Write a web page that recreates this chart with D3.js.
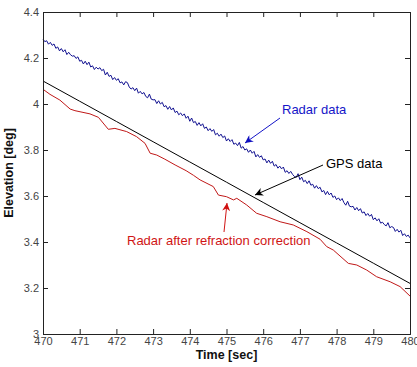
<!DOCTYPE html>
<html><head><meta charset="utf-8">
<script src="https://cdn.jsdelivr.net/npm/d3@7"></script>
<style>body{margin:0;background:#fff}svg{display:block}</style>
</head><body>
<svg id="c" width="417" height="367"></svg>
<script>
const xTicks = [470,471,472,473,474,475,476,477,478,479,480];
const yTicks = [3,3.2,3.4,3.6,3.8,4,4.2,4.4];
const yTickLabels = ["3","3.2","3.4","3.6","3.8","4","4.2","4.4"];
const radarStart = 470, radarStep = 0.05;
const radarValues = [4.282,4.271,4.275,4.260,4.268,4.255,4.261,4.242,4.248,4.231,
4.241,4.227,4.236,4.215,4.225,4.214,4.208,4.210,4.198,4.205,
4.186,4.190,4.174,4.186,4.171,4.182,4.161,4.166,4.150,4.160,
4.152,4.158,4.145,4.151,4.126,4.138,4.120,4.125,4.106,4.115,
4.103,4.110,4.092,4.096,4.083,4.097,4.093,4.074,4.065,4.071,
4.058,4.069,4.047,4.055,4.044,4.050,4.033,4.027,4.043,4.021,
4.018,4.019,4.002,4.014,4.000,4.007,3.988,3.993,3.977,3.989,
3.974,3.983,3.963,3.969,3.953,3.961,3.949,3.957,3.938,3.947,
3.925,3.939,3.919,3.924,3.907,3.919,3.905,3.914,3.894,3.900,
3.884,3.893,3.881,3.889,3.866,3.873,3.860,3.869,3.854,3.861,
3.839,3.849,3.837,3.845,3.825,3.830,3.819,3.833,3.808,3.815,
3.800,3.805,3.790,3.800,3.786,3.794,3.770,3.780,3.768,3.775,
3.757,3.761,3.744,3.756,3.742,3.751,3.730,3.737,3.721,3.730,
3.718,3.726,3.703,3.710,3.698,3.707,3.694,3.685,3.681,3.697,
3.671,3.682,3.662,3.668,3.654,3.666,3.647,3.651,3.634,3.645,
3.632,3.638,3.618,3.624,3.606,3.620,3.605,3.613,3.594,3.600,
3.584,3.592,3.580,3.589,3.571,3.560,3.577,3.556,3.553,3.555,
3.539,3.550,3.536,3.545,3.526,3.531,3.515,3.524,3.512,3.520,
3.497,3.505,3.492,3.501,3.482,3.486,3.476,3.470,3.484,3.462,
3.467,3.463,3.446,3.455,3.443,3.451,3.428,3.436,3.424,3.430,3.418];
const gpsTime = [470,471,472,473,474,475,476,477,478,479,480];
const gpsValues = [4.100,4.012,3.924,3.836,3.748,3.660,3.572,3.484,3.396,3.308,3.220];
const corrTime = [470,470.19,470.46,470.74,470.87,471.28,471.51,471.78,471.96,472.28,472.55,472.78,472.92,473.1,473.32,473.6,473.9,474.1,474.28,474.64,474.78,475.0,475.19,475.28,475.55,475.82,476.1,476.46,476.82,477.19,477.55,477.73,477.91,478.32,478.55,478.82,479.09,479.46,479.73,480];
const corrValues = [4.064,4.042,4.017,3.978,3.971,3.957,3.942,3.890,3.894,3.880,3.858,3.829,3.786,3.778,3.760,3.735,3.710,3.690,3.670,3.641,3.604,3.597,3.583,3.590,3.561,3.525,3.510,3.488,3.474,3.445,3.412,3.380,3.365,3.307,3.300,3.278,3.249,3.227,3.206,3.165];

const svg = d3.select("#c");
const L=43, R=410, T=12, B=334;
const x = d3.scaleLinear().domain([470,480]).range([L,R]);
const y = d3.scaleLinear().domain([3,4.4]).range([B,T]);
const font = "Liberation Sans, Arial, sans-serif";

svg.append("defs").selectAll("marker").data([["ab","#1010c0"],["ak","#000"],["ar","#d01010"]]).join("marker")
  .attr("id",d=>d[0]).attr("viewBox","0 0 10 10").attr("refX",10).attr("refY",5)
  .attr("markerWidth",10).attr("markerHeight",8).attr("markerUnits","userSpaceOnUse").attr("orient","auto")
  .append("path").attr("d","M0,0L10,5L0,10L3,5Z").attr("fill",d=>d[1]);

const radar = radarValues.map((v,i)=>[radarStart+i*radarStep, v]);
const gps = gpsTime.map((t,i)=>[t,gpsValues[i]]);
const corr = corrTime.map((t,i)=>[t,corrValues[i]]);
const line = d3.line().x(d=>x(d[0])).y(d=>y(d[1]));
const g = svg.append("g");
g.append("path").attr("d",line(gps)).attr("fill","none").attr("stroke","#000").attr("stroke-width",1);
g.append("path").attr("d",line(corr)).attr("fill","none").attr("stroke","#c01818").attr("stroke-width",1);
g.append("path").attr("d",line(radar)).attr("fill","none").attr("stroke","#101090").attr("stroke-width",1);

// axes (MATLAB style box, inward ticks)
const tl = 5;
const ax = svg.append("g");
ax.append("g").attr("transform",`translate(0,${B})`)
  .call(d3.axisBottom(x).tickValues(xTicks).tickSize(-tl).tickPadding(3).tickFormat(d3.format("d")));
ax.append("g").attr("transform",`translate(0,${T})`)
  .call(d3.axisTop(x).tickValues(xTicks).tickSize(-tl).tickFormat(""));
ax.append("g").attr("transform",`translate(${L},0)`)
  .call(d3.axisLeft(y).tickValues(yTicks).tickSize(-tl).tickPadding(4).tickFormat((d,i)=>yTickLabels[i]));
ax.append("g").attr("transform",`translate(${R},0)`)
  .call(d3.axisRight(y).tickValues(yTicks).tickSize(-tl).tickFormat(""));
ax.selectAll(".domain").attr("stroke","#222");
ax.selectAll(".tick line").attr("stroke","#222");
ax.selectAll("text").attr("font-family",font).attr("font-size",11).attr("fill","#444");

svg.append("text").attr("x",(L+R)/2).attr("y",359).attr("text-anchor","middle")
  .attr("font-family",font).attr("font-size",12.5).attr("font-weight","bold").attr("fill","#111").text("Time [sec]");
svg.append("text").attr("transform",`translate(13,${(T+B)/2}) rotate(-90)`).attr("text-anchor","middle")
  .attr("font-family",font).attr("font-size",12.5).attr("font-weight","bold").attr("fill","#111").text("Elevation [deg]");

// annotations
svg.append("text").attr("x",282).attr("y",114).attr("font-family",font).attr("font-size",13).attr("fill","#1515c8").text("Radar data");
svg.append("line").attr("x1",280).attr("y1",118).attr("x2",245).attr("y2",143).attr("stroke","#1515c8").attr("marker-end","url(#ab)");
svg.append("text").attr("x",326).attr("y",168).attr("font-family",font).attr("font-size",13).attr("fill","#000").text("GPS data");
svg.append("line").attr("x1",323).attr("y1",165).attr("x2",255).attr("y2",195).attr("stroke","#000").attr("marker-end","url(#ak)");
svg.append("text").attr("x",127).attr("y",245).attr("font-family",font).attr("font-size",13).attr("fill","#d01515").text("Radar after refraction correction");
svg.append("line").attr("x1",224).attr("y1",232).attr("x2",227).attr("y2",203).attr("stroke","#d01515").attr("marker-end","url(#ar)");
</script>
</body></html>
